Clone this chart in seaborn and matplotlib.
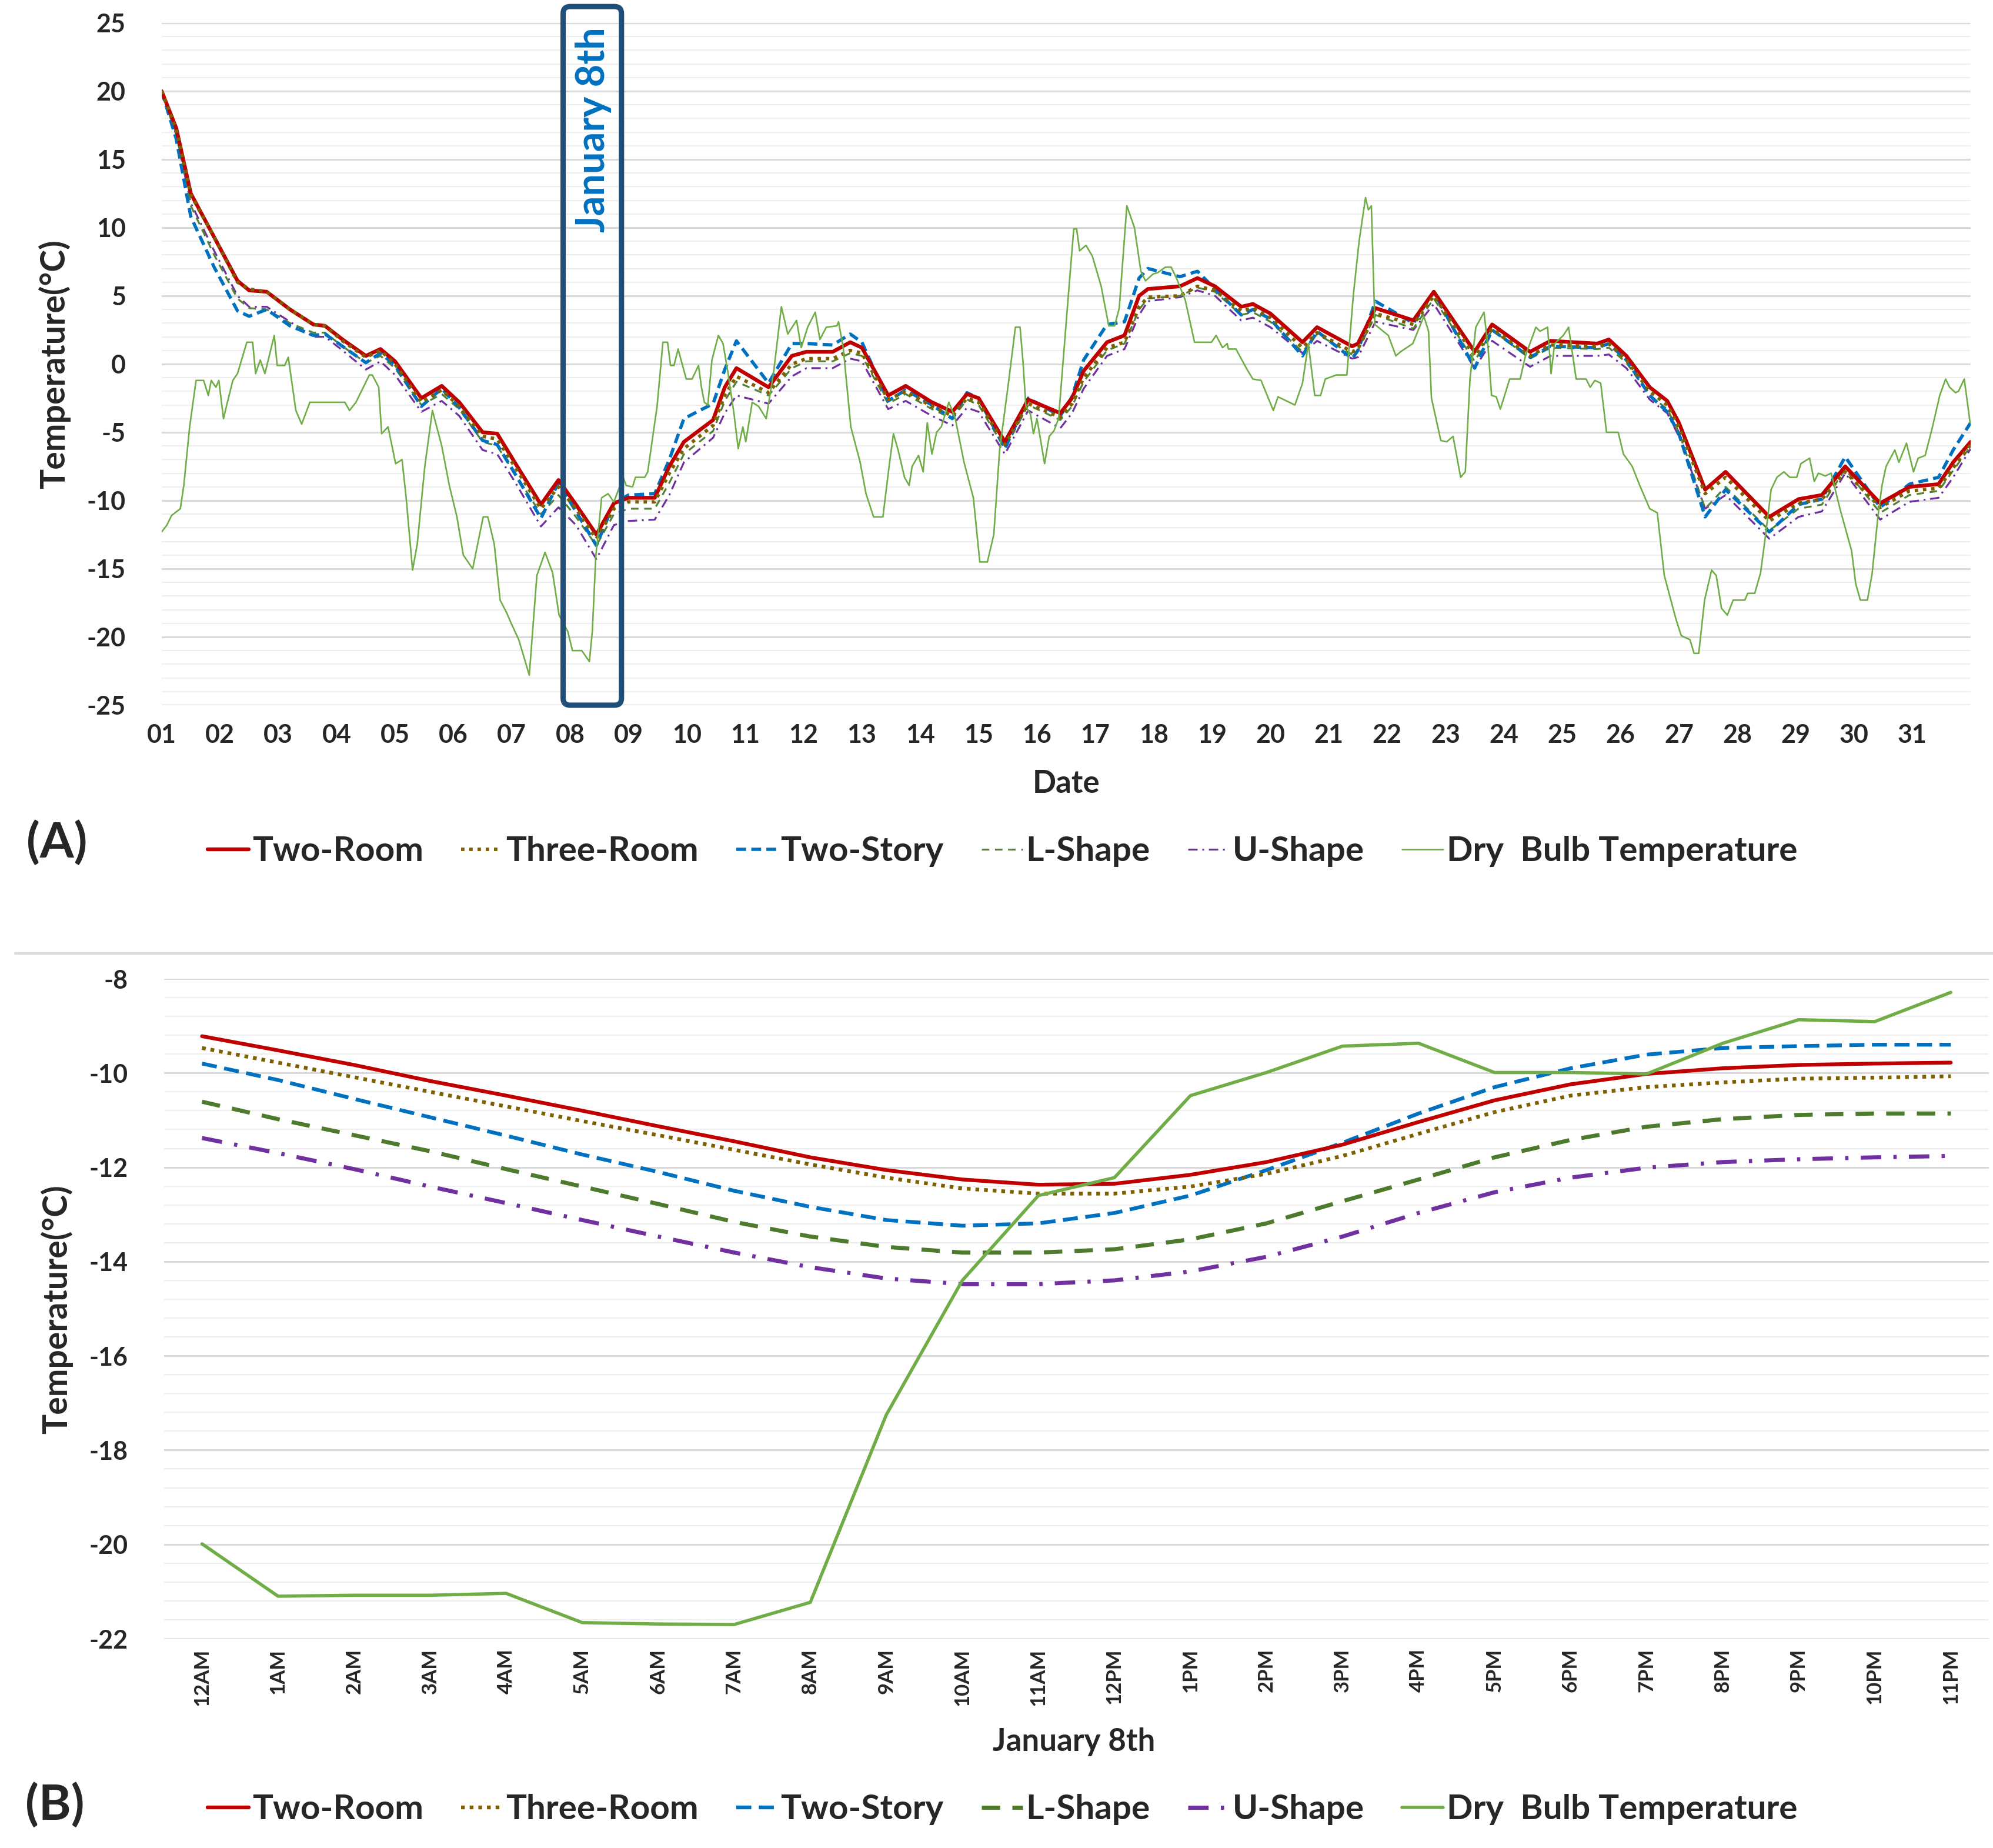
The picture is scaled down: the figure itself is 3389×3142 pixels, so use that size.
import seaborn as sns
import matplotlib.pyplot as plt
from matplotlib.ticker import MultipleLocator
from matplotlib.patches import FancyBboxPatch
from matplotlib.lines import Line2D

# ---------------- panel A : whole January (x in days since Jan 1 00:00) ----------------
days_a = [0, 0.25, 0.5, 0.9, 1.3, 1.5, 1.8, 2.2, 2.6, 2.8,
          3.1, 3.5, 3.75, 4.0, 4.45, 4.8, 5.1, 5.5, 5.75, 6.05,
          6.5, 6.8, 7.1, 7.45, 7.75, 8.0, 8.45, 8.7, 8.95, 9.45,
          9.65, 9.85, 10.4, 10.8, 11.05, 11.5, 11.8, 12.0, 12.45, 12.75,
          13.2, 13.55, 13.8, 14.0, 14.45, 14.85, 15.4, 15.6, 15.8, 16.2,
          16.5, 16.75, 16.9, 17.45, 17.75, 18.05, 18.5, 18.7, 19.0, 19.55,
          19.8, 20.4, 20.5, 20.8, 21.45, 21.8, 22.5, 22.8, 23.45, 23.8,
          24.6, 24.8, 25.1, 25.5, 25.8, 26.0, 26.45, 26.8, 27.55, 28.05,
          28.45, 28.85, 29.45, 29.95, 30.45, 30.7, 31.0]

two_room_a = [20.0, 17.3, 12.5, 9.3, 6.1, 5.4, 5.3, 4.0, 2.9, 2.8,
              1.8, 0.6, 1.1, 0.2, -2.5, -1.6, -2.8, -5.0, -5.1, -7.2,
              -10.3, -8.5, -10.3, -12.5, -10.2, -9.8, -9.8, -7.5, -5.7, -4.1,
              -1.7, -0.3, -1.7, 0.6, 0.9, 0.9, 1.6, 1.2, -2.3, -1.6,
              -2.8, -3.5, -2.2, -2.5, -5.7, -2.6, -3.6, -2.5, -0.5, 1.6,
              2.1, 5.0, 5.5, 5.7, 6.3, 5.7, 4.2, 4.4, 3.7, 1.6,
              2.7, 1.3, 1.5, 4.1, 3.2, 5.3, 0.9, 2.9, 0.9, 1.7,
              1.5, 1.8, 0.6, -1.7, -2.7, -4.3, -9.2, -7.9, -11.2, -9.9,
              -9.6, -7.5, -10.2, -9.0, -8.8, -7.2, -5.7]

three_room_a = [20.0, 17.2, 12.4, 9.3, 6.0, 5.5, 5.3, 4.0, 2.9, 2.8,
                1.7, 0.5, 1.0, 0.0, -2.8, -1.9, -3.1, -5.3, -5.5, -7.5,
                -10.6, -9.0, -10.6, -12.8, -10.6, -10.1, -10.1, -8.0, -6.2, -4.5,
                -2.3, -0.9, -2.1, 0.0, 0.4, 0.4, 1.0, 0.8, -2.6, -2.0,
                -3.1, -3.8, -2.5, -2.8, -5.9, -2.9, -3.9, -2.9, -1.0, 1.2,
                1.6, 4.2, 4.9, 5.0, 5.7, 5.4, 3.9, 4.1, 3.4, 1.2,
                2.3, 0.9, 1.1, 3.7, 2.9, 5.0, 0.6, 2.6, 0.6, 1.4,
                1.3, 1.5, 0.3, -2.0, -3.0, -4.6, -9.5, -8.3, -11.5, -10.2,
                -9.9, -7.9, -10.5, -9.3, -9.1, -7.6, -5.9]

two_story_a = [20.0, 16.5, 10.8, 7.1, 3.9, 3.5, 4.0, 2.8, 2.1, 2.2,
               1.3, 0.1, 0.8, -0.1, -3.1, -1.8, -3.2, -5.6, -5.9, -8.0,
               -11.3, -8.7, -10.8, -13.3, -10.2, -9.6, -9.5, -7.0, -4.0, -2.9,
               -0.4, 1.7, -1.4, 1.5, 1.5, 1.4, 2.2, 1.6, -2.7, -1.9,
               -3.0, -4.0, -2.1, -2.5, -6.2, -2.5, -3.8, -2.4, 0.3, 2.9,
               3.1, 6.3, 7.0, 6.4, 6.8, 5.5, 3.6, 4.0, 3.3, 0.6,
               2.4, 0.4, 1.0, 4.6, 3.0, 5.3, -0.3, 2.5, 0.5, 1.3,
               1.2, 1.5, 0.3, -2.3, -3.5, -5.1, -11.2, -9.2, -12.3, -10.3,
               -9.9, -6.8, -10.5, -8.8, -8.3, -6.3, -4.3]

l_shape_a = [20.0, 16.9, 11.6, 8.0, 4.8, 4.1, 4.0, 3.0, 2.3, 2.3,
             1.3, 0.1, 0.6, -0.3, -3.0, -2.2, -3.3, -5.7, -6.0, -8.0,
             -11.0, -9.6, -11.2, -13.3, -11.0, -10.6, -10.6, -8.7, -6.6, -4.9,
             -2.7, -1.3, -2.3, -0.3, 0.2, 0.2, 0.8, 0.6, -2.9, -2.2,
             -3.3, -4.0, -2.6, -3.0, -6.2, -3.0, -4.1, -3.1, -1.3, 1.0,
             1.5, 4.0, 4.8, 5.0, 5.6, 5.3, 3.6, 3.8, 3.1, 0.9,
             2.2, 0.7, 1.0, 3.6, 2.6, 4.8, 0.2, 2.5, 0.4, 1.2,
             1.1, 1.2, 0.1, -2.3, -3.3, -5.0, -10.6, -9.0, -12.2, -10.6,
             -10.3, -7.7, -10.9, -9.6, -9.3, -7.8, -6.0]

u_shape_a = [20.0, 16.8, 11.8, 8.3, 5.0, 4.2, 4.2, 3.1, 2.0, 2.0,
             1.0, -0.4, 0.2, -0.8, -3.5, -2.7, -3.8, -6.3, -6.6, -8.6,
             -11.9, -10.5, -11.8, -14.3, -11.8, -11.5, -11.4, -9.6, -7.2, -5.4,
             -3.6, -2.3, -2.9, -0.9, -0.3, -0.3, 0.4, 0.2, -3.3, -2.7,
             -3.8, -4.5, -3.2, -3.5, -6.6, -3.4, -4.7, -3.6, -1.8, 0.6,
             1.1, 3.6, 4.6, 4.9, 5.4, 5.0, 3.2, 3.4, 2.7, 0.8,
             1.7, 0.4, 0.5, 3.1, 2.5, 4.4, -0.3, 1.7, -0.2, 0.6,
             0.6, 0.7, -0.3, -2.6, -3.6, -5.3, -10.6, -9.6, -12.8, -11.2,
             -10.8, -8.0, -11.4, -10.1, -9.8, -8.3, -6.2]

dry_days_a = [0.0, 0.09, 0.17, 0.32, 0.38, 0.48, 0.59, 0.72, 0.8, 0.85, 0.93, 0.98,
              1.06, 1.11, 1.22, 1.3, 1.46, 1.56, 1.61, 1.69, 1.77, 1.93, 1.98,
              2.11, 2.17, 2.3, 2.4, 2.54, 3.14, 3.22, 3.33, 3.56, 3.61, 3.72, 3.77, 3.88,
              4.01, 4.12, 4.19, 4.3, 4.38, 4.51, 4.64, 4.8, 4.93,
              5.06, 5.17, 5.33, 5.51, 5.59, 5.7, 5.8, 5.91, 5.99,
              6.12, 6.3, 6.43, 6.57, 6.7, 6.81, 6.96,
              7.04, 7.2, 7.33, 7.38, 7.44, 7.54, 7.65, 7.75, 7.91, 7.96,
              8.07, 8.12, 8.28, 8.33, 8.44, 8.49, 8.59, 8.67, 8.72, 8.78, 8.85, 8.99,
              9.09, 9.2, 9.25, 9.3, 9.36, 9.43, 9.54, 9.62, 9.7, 9.81, 9.88, 9.96,
              10.01, 10.12, 10.23, 10.36, 10.49, 10.62, 10.73, 10.88, 10.96,
              11.07, 11.2, 11.28, 11.39, 11.57, 11.6, 11.68, 11.81, 11.97,
              12.07, 12.2, 12.36, 12.46, 12.54, 12.62, 12.73, 12.81, 12.86, 12.97,
              13.05, 13.12, 13.2, 13.28, 13.36, 13.49, 13.6, 13.75, 13.91,
              14.02, 14.15, 14.26, 14.36, 14.52, 14.63, 14.71, 14.76, 14.81, 14.89, 14.94,
              15.0, 15.13, 15.21, 15.29, 15.37, 15.52, 15.63, 15.68, 15.73, 15.84, 15.95,
              16.1, 16.23, 16.33, 16.41, 16.54, 16.67, 16.78, 16.86, 16.99,
              17.07, 17.2, 17.3, 17.39, 17.54, 17.7, 17.99,
              18.07, 18.18, 18.26, 18.28, 18.41, 18.6, 18.7, 18.84,
              19.05, 19.13, 19.42, 19.55, 19.65, 19.76, 19.86, 19.94,
              20.13, 20.31, 20.42, 20.52, 20.63, 20.68, 20.73, 20.79,
              21.02, 21.15, 21.23, 21.44, 21.63, 21.71, 21.76, 21.92,
              22.02, 22.13, 22.26, 22.34, 22.42, 22.52, 22.66, 22.73, 22.79, 22.87, 22.94,
              23.1, 23.28, 23.37, 23.55, 23.62, 23.75, 23.81, 23.87,
              24.02, 24.11, 24.24, 24.41, 24.48, 24.56, 24.66, 24.76, 24.96,
              25.05, 25.2, 25.33, 25.5, 25.63, 25.75, 25.95,
              26.04, 26.19, 26.26, 26.34, 26.44, 26.56, 26.64, 26.73, 26.83, 26.93,
              27.13, 27.18, 27.3, 27.4, 27.48, 27.58, 27.68, 27.8, 27.9,
              28.02, 28.09, 28.24, 28.32, 28.39, 28.51, 28.61, 28.76, 28.96,
              29.03, 29.11, 29.23, 29.31, 29.41, 29.48, 29.55, 29.65, 29.7, 29.77, 29.9,
              30.02, 30.1, 30.22, 30.34, 30.47, 30.57, 30.64, 30.74, 30.79, 30.89, 30.99]

dry_temp_a = [-12.3, -11.8, -11.1, -10.6, -8.9, -4.6, -1.2, -1.2, -2.3, -1.2, -1.7, -1.2,
              -4.0, -3.1, -1.2, -0.7, 1.6, 1.6, -0.7, 0.3, -0.7, 2.1, -0.1,
              -0.1, 0.5, -3.4, -4.4, -2.8, -2.8, -3.4, -2.8, -0.8, -0.8, -1.7, -5.1, -4.6,
              -7.3, -7.0, -9.8, -15.1, -13.2, -7.5, -3.4, -6.0, -8.9,
              -11.2, -14.0, -15.0, -11.2, -11.2, -13.2, -17.3, -18.2, -19.0,
              -20.2, -22.8, -15.5, -13.8, -15.3, -18.4, -19.6,
              -21.0, -21.0, -21.8, -19.6, -14.1, -9.8, -9.5, -10.1, -8.3, -8.9,
              -9.0, -8.3, -8.3, -7.9, -4.6, -3.1, 1.6, 1.6, -0.1, -0.1, 1.1, -1.1,
              -1.1, -0.1, -1.7, -2.8, -3.0, 0.3, 2.1, 1.5, -0.5, -3.7, -6.2, -4.6,
              -5.7, -2.8, -3.1, -4.0, -0.5, 4.2, 2.2, 3.2, 1.2,
              2.7, 3.8, 1.8, 2.7, 2.8, 3.1, 1.2, -4.6, -7.2,
              -9.5, -11.2, -11.2, -7.7, -5.1, -6.3, -8.3, -8.9, -7.5, -6.7,
              -7.9, -4.3, -6.6, -5.0, -4.6, -2.8, -4.0, -7.2, -9.8,
              -14.5, -14.5, -12.5, -6.3, -1.1, 2.7, 2.7, 0.2, -3.1, -3.7, -5.1,
              -4.0, -7.3, -5.3, -4.9, -4.0, 4.1, 9.9, 9.9, 8.3, 8.7, 7.9,
              5.7, 2.8, 2.8, 4.1, 11.6, 10.0, 6.8, 6.1, 6.6,
              6.7, 7.1, 7.1, 6.3, 4.7, 1.6, 1.6,
              2.1, 1.2, 1.5, 1.1, 1.1, -0.4, -1.1, -1.2,
              -3.4, -2.4, -3.0, -1.4, 1.5, -2.3, -2.3, -1.1,
              -0.8, -0.8, 5.0, 9.0, 12.2, 11.3, 11.6, 2.9,
              2.1, 0.6, 0.9, 1.5, 3.5, 2.4, -2.5, -5.6,
              -5.7, -5.3, -8.3, -7.9, -1.1, 2.7, 3.8, 1.2, -2.3, -2.4, -3.3,
              -1.1, -1.1, 0.6, 2.7, 2.4, 2.7, -0.7, 1.5,
              2.1, 2.7, -1.1, -1.1, -1.7, -1.2, -1.4, -5.0, -5.0,
              -6.6, -7.5, -8.9, -10.6, -10.9, -15.5, -18.7,
              -19.9, -20.2, -21.2, -21.2, -17.3, -15.1, -15.5, -17.9, -18.4, -17.3,
              -17.3, -16.8, -16.8, -15.3, -12.7, -9.2, -8.3, -7.9, -8.3,
              -8.3, -7.3, -6.9, -8.6, -8.0, -8.2, -8.0, -10.6, -13.7,
              -16.1, -17.3, -17.3, -15.4, -11.2, -8.9, -7.5, -6.7, -6.3, -7.2, -5.8,
              -7.9, -6.9, -6.7, -4.7, -2.3, -1.1, -1.7, -2.1, -2.0, -1.1, -4.3]

day_labels = ["%02d" % d for d in range(1, 32)]

# ---------------- panel B : January 8th, hourly ----------------
hour_labels = ["12AM"] + ["%dAM" % h for h in range(1, 12)] + ["12PM"] + ["%dPM" % h for h in range(1, 12)]

two_room_b = [-9.22, -9.52, -9.83, -10.17, -10.48, -10.80, -11.13, -11.45, -11.79, -12.06, -12.26, -12.37,
              -12.35, -12.16, -11.89, -11.52, -11.04, -10.58, -10.24, -10.02, -9.90, -9.83, -9.80, -9.78]
three_room_b = [-9.47, -9.78, -10.09, -10.40, -10.71, -11.02, -11.32, -11.63, -11.94, -12.22, -12.45, -12.56,
                -12.56, -12.41, -12.14, -11.76, -11.29, -10.83, -10.48, -10.30, -10.20, -10.12, -10.10, -10.07]
two_story_b = [-9.80, -10.15, -10.55, -10.94, -11.33, -11.73, -12.10, -12.50, -12.84, -13.12, -13.24, -13.19,
               -12.97, -12.60, -12.06, -11.48, -10.86, -10.30, -9.90, -9.61, -9.47, -9.43, -9.40, -9.40]
l_shape_b = [-10.61, -10.98, -11.32, -11.66, -12.04, -12.41, -12.78, -13.16, -13.47, -13.69, -13.81, -13.81,
             -13.74, -13.53, -13.19, -12.72, -12.26, -11.79, -11.42, -11.14, -10.98, -10.89, -10.86, -10.86]
u_shape_b = [-11.38, -11.70, -12.04, -12.41, -12.76, -13.12, -13.47, -13.81, -14.12, -14.36, -14.48, -14.48,
             -14.40, -14.21, -13.90, -13.47, -12.97, -12.53, -12.22, -12.01, -11.89, -11.83, -11.79, -11.76]
dry_bulb_b = [-19.99, -21.10, -21.08, -21.08, -21.04, -21.66, -21.69, -21.70, -21.23, -17.25, -14.40, -12.60,
              -12.22, -10.48, -9.99, -9.43, -9.37, -9.99, -9.99, -10.02, -9.37, -8.87, -8.91, -8.29]

series_names = ["Two-Room", "Three-Room", "Two-Story", "L-Shape", "U-Shape", "Dry  Bulb Temperature"]
colors = ["#C00000", "#7F6000", "#0070C0", "#548235", "#7030A0", "#70AD47"]

sns.set_style("white")
plt.rcParams['font.family'] = ['Lato', 'DejaVu Sans']
plt.rcParams['font.weight'] = 'bold'
plt.rcParams['axes.unicode_minus'] = False

fig = plt.figure(figsize=(33.89, 31.42), dpi=100)
ax_a = fig.add_axes([0.0811, 0.6184, 0.9077, 0.3692])
ax_b = fig.add_axes([0.0823, 0.1133, 0.9156, 0.3571])


def draw(ax, xs, ys, name, color, lw, ls, z):
    sns.lineplot(x=xs, y=ys, ax=ax, color=color, linewidth=lw, label=name,
                 errorbar=None, sort=False, zorder=z)
    line = ax.lines[-1]
    line.set_linestyle(ls)
    line.set_solid_joinstyle('round')
    line.set_dash_joinstyle('round')
    return line


# panel A lines
a_data = [(days_a, two_room_a), (days_a, three_room_a), (days_a, two_story_a),
          (days_a, l_shape_a), (days_a, u_shape_a), (dry_days_a, dry_temp_a)]
a_lw = [4.6, 4.2, 4.0, 2.3, 2.3, 1.9]
a_ls = ['-', (0, (1, 1.4)), (0, (3, 1.6)), (0, (4, 3)), (0, (5, 2.5, 1, 2.5)), '-']
a_z = [5, 6, 4, 3, 2, 7]
for (xs, ys), name, c, lw, ls, z in zip(a_data, series_names, colors, a_lw, a_ls, a_z):
    draw(ax_a, xs, ys, name, c, lw, ls, z)

# panel B lines
hours = list(range(24))
b_vals = [two_room_b, three_room_b, two_story_b, l_shape_b, u_shape_b, dry_bulb_b]
b_lw = [4.6, 4.6, 4.6, 5.0, 5.0, 4.0]
b_ls = ['-', (0, (1, 1.3)), (0, (4, 2)), (0, (4.5, 3)), (0, (5, 3, 0.8, 3)), '-']
b_colors = ["#C00000", "#7F6000", "#0070C0", "#4E7A2E", "#7030A0", "#70AD47"]
for ys, name, c, lw, ls, z in zip(b_vals, series_names, b_colors, b_lw, b_ls, a_z):
    draw(ax_b, hours, ys, name, c, lw, ls, z)

# axes styling
for ax in (ax_a, ax_b):
    for s in ax.spines.values():
        s.set_visible(False)
    ax.grid(axis='y', which='major', color='#d9d9d9', linewidth=2.2)
    ax.grid(axis='y', which='minor', color='#efefef', linewidth=1.6)
    ax.grid(axis='x', visible=False)
    ax.set_axisbelow(True)
    ax.tick_params(axis='both', which='both', length=0)
    ax.tick_params(axis='y', labelsize=31, pad=44)

ax_a.set_xlim(0, 31)
ax_a.set_ylim(-25, 25)
ax_a.set_yticks(range(-25, 26, 5))
ax_a.yaxis.set_minor_locator(MultipleLocator(1))
ax_a.set_xticks(range(31))
ax_a.set_xticklabels(day_labels)
ax_a.tick_params(axis='x', labelsize=31, pad=22)
ax_a.set_xlabel("Date", fontsize=38, fontweight='bold', va='center')
ax_a.set_ylabel("Temperature(°C)", fontsize=41, fontweight='bold', va='center')
ax_a.xaxis.set_label_coords(0.5, -0.1155)
ax_a.yaxis.set_label_coords(-0.0592, 0.5)

ax_b.set_xlim(-0.5, 23.5)
ax_b.set_ylim(-22, -8)
ax_b.set_yticks(range(-22, -7, 2))
ax_b.yaxis.set_minor_locator(MultipleLocator(0.4))
ax_b.set_xticks(hours)
ax_b.set_xticklabels(hour_labels, rotation=90)
ax_b.tick_params(axis='x', labelsize=25, pad=12)
ax_b.set_xlabel("January 8th", fontsize=38, fontweight='bold', va='center')
ax_b.set_ylabel("Temperature(°C)", fontsize=41, fontweight='bold', va='center')
ax_b.xaxis.set_label_coords(0.4986, -0.156)
ax_b.yaxis.set_label_coords(-0.0587, 0.499)

for lab in ax_a.get_xticklabels() + ax_a.get_yticklabels() + ax_b.get_xticklabels() + ax_b.get_yticklabels():
    lab.set_fontweight('bold')

# highlight box for January 8th
box = FancyBboxPatch((6.88, -25), 1.0, 51.2, boxstyle="round,pad=0,rounding_size=0.12",
                     mutation_aspect=4.3, fill=False, edgecolor='#1F4E79', linewidth=6.5,
                     clip_on=False, zorder=10)
ax_a.add_patch(box)
ax_a.text(7.40, 24.7, "January 8th", rotation=90, ha='center', va='top', color='#0070C0',
          fontsize=48, fontweight='bold', zorder=11)

# legends
for ax, ypos in ((ax_a, 0.5392), (ax_b, 0.0207)):
    handles, labels = ax.get_legend_handles_labels()
    ax.get_legend().remove()
    fig.legend(handles, labels, loc='center', bbox_to_anchor=(0.503, ypos), ncol=6,
               frameon=False, handlelength=1.2, handletextpad=0.1,
               columnspacing=1.1, prop={'weight': 'bold', 'size': 42})

fig.text(0.0286, 0.544, "(A)", fontsize=60, fontweight='bold', ha='center', va='center')
fig.text(0.0274, 0.0232, "(B)", fontsize=60, fontweight='bold', ha='center', va='center')

# separator between the panels
fig.add_artist(Line2D([0.0077, 1.0], [0.4841, 0.4841], transform=fig.transFigure,
                      color='#d9d9d9', linewidth=3))

fig.savefig("out.png", dpi=100, facecolor='white')
